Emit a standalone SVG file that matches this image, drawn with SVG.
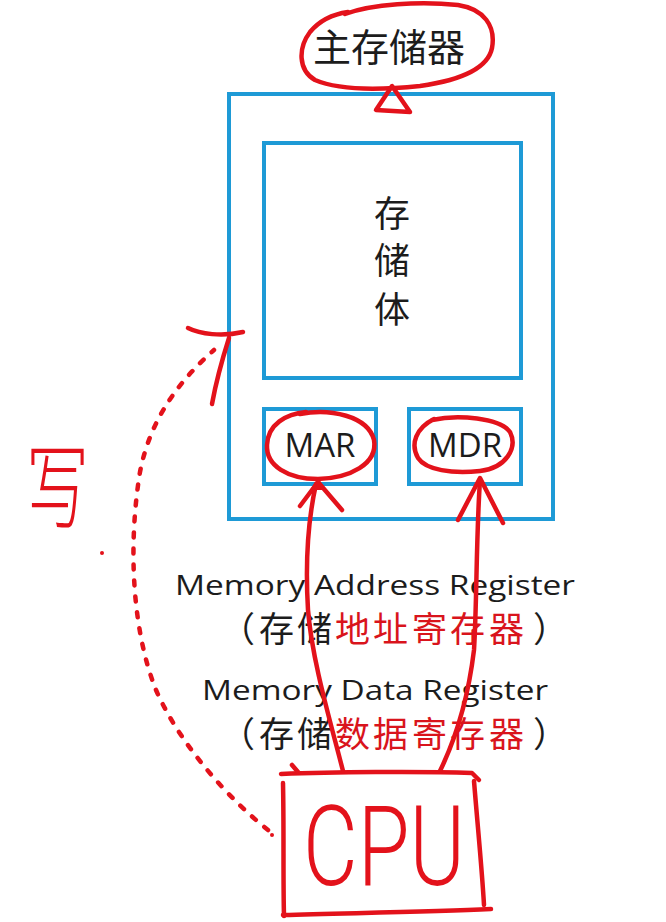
<svg xmlns="http://www.w3.org/2000/svg" width="666" height="922" viewBox="0 0 666 922">
  <style>
    .box { fill: none; stroke: #1E9AD6; stroke-width: 4; }
    .ink { fill: none; stroke: #E3121B; stroke-width: 4.5; stroke-linecap: round; stroke-linejoin: round; }
    .cjk { font-family: "Noto Sans CJK SC", "Noto Sans", sans-serif; fill: #1c1c1c; }
    .lat { font-family: "Open Sans", "Liberation Sans", sans-serif; fill: #1c1c1c; }
    .red { fill: #D9141C; }
    .hand { fill: #E3121B; }
  </style>

  <rect width="666" height="922" fill="#ffffff"/>

  <!-- main memory: outer frame and its title -->
  <g id="main-memory">
    <rect class="box" x="229" y="94" width="324" height="425"/>
    <text class="cjk" x="389" y="61" font-size="38" text-anchor="middle">主存储器</text>
    <path class="ink" d="M 345 14 C 372 4, 420 1, 458 5 C 484 9, 496 26, 492 48 C 488 68, 462 80, 420 86 C 380 90, 338 90, 315 80 C 298 70, 298 48, 310 32 C 320 20, 334 14, 348 12"/>
    <path class="ink" stroke-width="5" d="M 392 86 L 376 110 L 410 112 Z"/>
  </g>

  <!-- storage array -->
  <g id="storage-array">
    <rect class="box" x="264" y="143" width="257" height="235"/>
    <text class="cjk" x="392" y="227" font-size="36" text-anchor="middle">存</text>
    <text class="cjk" x="392" y="274" font-size="36" text-anchor="middle">储</text>
    <text class="cjk" x="392" y="323" font-size="36" text-anchor="middle">体</text>
  </g>

  <!-- memory address register -->
  <g id="mar">
    <rect class="box" x="264" y="409" width="112" height="75"/>
    <text class="lat" x="320" y="457" font-size="33" text-anchor="middle">MAR</text>
    <path class="ink" d="M 300 414 C 330 408, 368 416, 374 440 C 378 464, 350 478, 318 479 C 288 479, 266 466, 267 445 C 268 424, 286 414, 306 412"/>
  </g>

  <!-- memory data register -->
  <g id="mdr">
    <rect class="box" x="409" y="409" width="112" height="75"/>
    <text class="lat" x="465" y="457" font-size="33" text-anchor="middle">MDR</text>
    <path class="ink" d="M 432 420 C 458 414, 500 418, 510 432 C 518 448, 506 468, 480 471 C 452 474, 426 470, 418 458 C 410 444, 416 428, 434 419"/>
  </g>

  <!-- register names -->
  <g id="register-labels">
    <text class="lat" x="175" y="595" font-size="28" textLength="400" lengthAdjust="spacingAndGlyphs">Memory Address Register</text>
    <text class="cjk" y="642" font-size="35"><tspan x="220">（</tspan><tspan x="259">存</tspan><tspan x="297">储</tspan><tspan class="red" x="335">地</tspan><tspan class="red" x="373">址</tspan><tspan class="red" x="412">寄</tspan><tspan class="red" x="450">存</tspan><tspan class="red" x="489">器</tspan><tspan x="533">）</tspan></text>
    <text class="lat" x="202" y="700" font-size="28" textLength="346" lengthAdjust="spacingAndGlyphs">Memory Data Register</text>
    <text class="cjk" y="747" font-size="35"><tspan x="220">（</tspan><tspan x="259">存</tspan><tspan x="297">储</tspan><tspan class="red" x="335">数</tspan><tspan class="red" x="373">据</tspan><tspan class="red" x="412">寄</tspan><tspan class="red" x="450">存</tspan><tspan class="red" x="489">器</tspan><tspan x="533">）</tspan></text>
  </g>

  <!-- CPU -->
  <g id="cpu">
    <path class="ink" d="M 281 774 C 330 772, 420 771, 472 773 L 479 780"/>
    <path class="ink" d="M 292 765 L 298 772"/>
    <path class="ink" d="M 283 783 C 284 830, 283 880, 284 916"/>
    <path class="ink" d="M 474 781 C 478 830, 482 870, 484 905"/>
    <path class="ink" d="M 283 915 C 350 913, 430 912, 491 909"/>
    <text class="hand" x="303" y="885" font-size="112" font-family="Roboto, Lato, 'Open Sans', sans-serif" font-weight="300" textLength="162" lengthAdjust="spacingAndGlyphs">CPU</text>
  </g>

  <!-- write annotation -->
  <g id="write-note">
    <text class="hand" transform="translate(26,522) scale(0.75,1.12)" font-size="84" font-weight="300" font-family="'Noto Sans CJK SC', sans-serif">写</text>
    <circle cx="102" cy="553" r="2" fill="#E3121B"/>
  </g>

  <!-- connectors -->
  <g id="connectors">
    <!-- CPU to MAR -->
    <path class="ink" d="M 343 771 C 330 720, 312 660, 308 610 C 305 560, 308 520, 316 484"/>
    <path class="ink" d="M 300 506 L 318 482 L 342 510"/>
    <path d="M 318 478 L 310 490 L 326 490 Z" fill="#E3121B"/>
    <!-- CPU to MDR -->
    <path class="ink" d="M 440 771 C 455 740, 468 700, 474 650 C 477 600, 476 540, 480 480"/>
    <path class="ink" d="M 458 520 L 480 478 L 503 523"/>
    <!-- write path: CPU back to main memory -->
    <path class="ink" stroke-width="3.5" stroke-dasharray="5 11" d="M 268 830 C 230 800, 180 745, 156 690 C 132 630, 128 545, 140 472 C 150 420, 178 382, 214 350"/>
    <circle cx="272" cy="835" r="2" fill="#E3121B"/>
    <path class="ink" stroke-width="7" d="M 188 328 C 200 334, 222 337, 243 332"/>
    <path class="ink" stroke-width="5" d="M 229 338 C 222 360, 216 382, 212 404"/>
  </g>
</svg>
